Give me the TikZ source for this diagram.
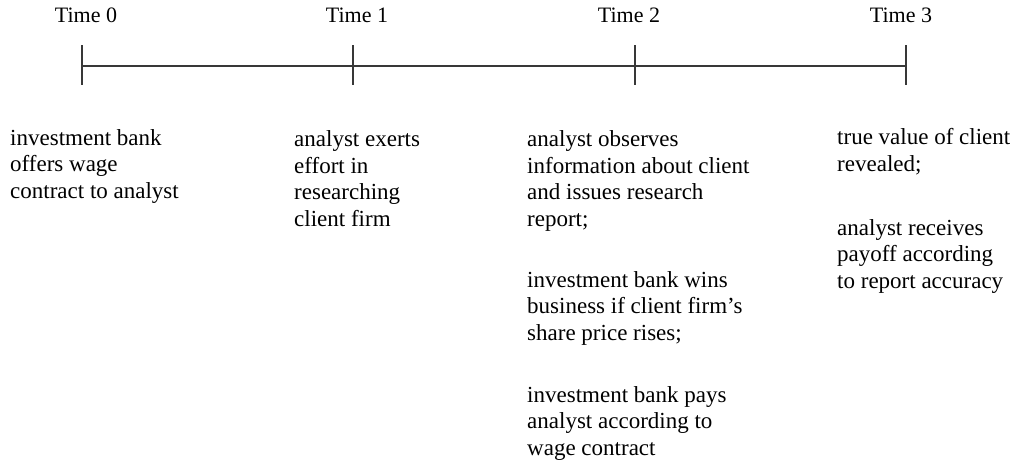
\documentclass[tikz,border=0pt]{standalone}
\usepackage{fontspec}
\setmainfont{Liberation Serif}
\usepackage{tikz}

\tikzset{
  stage/.style={anchor=base,inner sep=0pt,font=\fontsize{22}{26.5}\selectfont},
  event/.style={anchor=base west,inner sep=0pt,align=left,font=\fontsize{23}{26.5}\selectfont},
}

\begin{document}
\begin{tikzpicture}[x=1pt,y=-1pt]
    \useasboundingbox (0,0) rectangle (1020,471);
    % time axis with its four ticks
    \draw [line width=1.5pt,black!78] (82,66) -- (906,66);
    \draw [line width=1.5pt,black!78] (82,45) -- (82,85);
    \draw [line width=1.5pt,black!78] (353,45) -- (353,85);
    \draw [line width=1.5pt,black!78] (635,45) -- (635,85);
    \draw [line width=1.5pt,black!78] (906,45) -- (906,85);
    \node[stage] (t0) at (86,23) {Time 0};
    \node[stage] (t1) at (357,23) {Time 1};
    \node[stage] (t2) at (629,23) {Time 2};
    \node[stage] (t3) at (901,23) {Time 3};
    % what happens at each date (placed by the baseline of the last line)
    \node[event] (e0) at (10,198) {investment bank\\offers wage\\contract to analyst};
    \node[event] (e1) at (294,226) {analyst exerts\\effort in\\researching\\client firm};
    \node[event] (e2a) at (527,226) {analyst observes\\information about client\\and issues research\\report;};
    \node[event] (e2b) at (527,340) {investment bank wins\\business if client firm's\\share price rises;};
    \node[event] (e2c) at (527,455) {investment bank pays\\analyst according to\\wage contract};
    \node[event] (e3a) at (837,171) {true value of client\\revealed;};
    \node[event] (e3b) at (837,288) {analyst receives\\payoff according\\to report accuracy};
\end{tikzpicture}
\end{document}
